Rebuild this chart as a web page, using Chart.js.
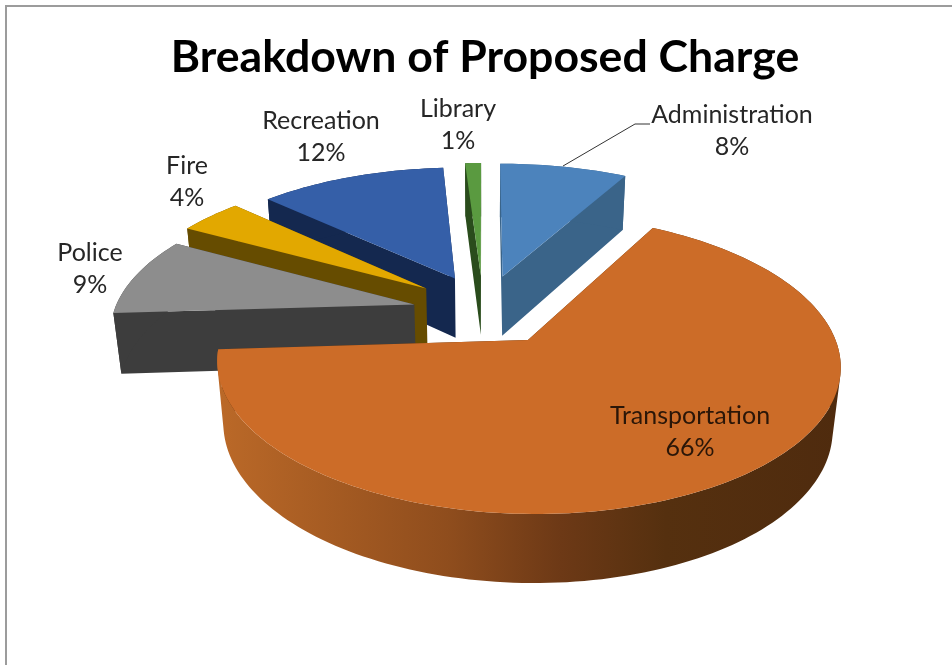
<!DOCTYPE html>
<html>
<head>
<meta charset="utf-8">
<title>Breakdown of Proposed Charge</title>
<script src="https://cdn.jsdelivr.net/npm/chart.js@4"></script>
<style>
    html, body { margin: 0; padding: 0; background: #fff; overflow: hidden; }
    #frame { position: absolute; left: 5px; top: 5px; width: 960px; height: 680px; border: 2px solid #9c9c9c; box-sizing: border-box; }
    #pie { position: absolute; left: 0; top: 0; }
</style>
</head>
<body>
<div id="frame"></div>
<canvas id="pie" width="952" height="665"></canvas>
<script>
// Chart data
const categories = ["Administration", "Transportation", "Police", "Fire", "Recreation", "Library"];
const shares = [8, 66, 9, 4, 12, 1];

const topColors = ["#4c83bc", "#cc6c28", "#8d8d8d", "#e2a800", "#355fa8", "#5a9a40"];
const wallColors = ["#3a6489", "#55300f", "#3d3d3d", "#664c00", "#14284f", "#2a4c1c"];

// Lighter to darker along the front of the big slice
const frontWallStops = [[0, "#bb6928"], [0.37, "#8f4d1d"], [0.55, "#6d3916"], [0.72, "#55300f"], [1, "#4f2b0e"]];

// Label centres: name line x, y; the percent line sits below it
const labelSpots = [[732, 115], [690, 416], [90, 253], [187, 166], [321, 121], [458, 109]];
const labelLineGap = 32;
const leaderLine = [[563, 166], [635, 124], [650, 124]];

// Pie view settings
const tilt = 0.459;        // vertical squash of the disc
const perspective = 0.16;  // nearer parts of the disc get larger
const wallDepth = 62;      // height of the pie body
const wallFade = 0.022;    // bottom face is a little further from the eye

// Small per-slice corrections: dx, dy, radius scale
const sliceFit = [[0, 0, 1], [2.5, 3, 0.976], [0, 4, 0.985], [-1, 0, 1], [0, 0, 0.975], [-2, 0, 1]];

// Far slices first, so nearer ones paint over them
const paintOrder = [0, 5, 4, 3, 2, 1];

function project(arc, u, v, low) {
    const R = arc.outerRadius;
    const w = 1 - perspective * v + (low ? wallFade : 0);
    return [
        arc.x + R * u / w,
        arc.y + (R * tilt * v + (low ? wallDepth : 0)) / w
    ];
}

// Fills several polygons as one path. All are wound the same way so that
// the overlaps merge and no seams show.
function fillPolys(ctx, polys, color) {
    ctx.beginPath();
    polys.forEach(function(poly) {
        let area = 0;
        poly.forEach(function(p, i) {
            const n = poly[(i + 1) % poly.length];
            area += p[0] * n[1] - n[0] * p[1];
        });
        const points = area < 0 ? poly.slice().reverse() : poly;
        points.forEach(function(p, i) {
            if (i === 0) ctx.moveTo(p[0], p[1]);
            else ctx.lineTo(p[0], p[1]);
        });
        ctx.closePath();
    });
    ctx.fillStyle = color;
    ctx.fill();
}

function drawSlice(ctx, arc, index) {
    const fit = sliceFit[index];
    const mid = (arc.startAngle + arc.endAngle) / 2;
    const e = arc.options.offset / arc.outerRadius;
    const cu = e * Math.cos(mid);
    const cv = e * Math.sin(mid);

    const steps = Math.max(8, Math.ceil((arc.endAngle - arc.startAngle) * 40));
    const rim = [];
    for (let i = 0; i <= steps; i++) {
        const a = arc.startAngle + (arc.endAngle - arc.startAngle) * i / steps;
        rim.push([cu + fit[2] * Math.cos(a), cv + fit[2] * Math.sin(a)]);
    }

    const place = function(p, low) {
        const q = project(arc, p[0], p[1], low);
        return [q[0] + fit[0], q[1] + fit[1]];
    };
    const tip = [cu, cv];
    const first = rim[0];
    const last = rim[rim.length - 1];

    // radial walls
    fillPolys(ctx, [
        [place(tip), place(last), place(last, true), place(tip, true)],
        [place(tip), place(first), place(first, true), place(tip, true)]
    ], wallColors[index]);

    // curved outer wall
    const topRim = rim.map(function(p) { return place(p); });
    const lowRim = rim.map(function(p) { return place(p, true); });
    let wallPaint = wallColors[index];
    if (index === 1) {
        const xs = topRim.map(function(p) { return p[0]; });
        const g = ctx.createLinearGradient(Math.min.apply(null, xs), 0, Math.max.apply(null, xs), 0);
        frontWallStops.forEach(function(s) { g.addColorStop(s[0], s[1]); });
        wallPaint = g;
    }
    const strips = [];
    for (let i = 0; i < steps; i++) {
        strips.push([topRim[i], topRim[i + 1], lowRim[i + 1], lowRim[i]]);
    }
    fillPolys(ctx, strips, wallPaint);

    // top face
    fillPolys(ctx, [[place(tip)].concat(topRim)], arc.options.backgroundColor);
}

// The library lays out the arcs; this paints them as a tilted solid pie
const solidPie = {
    id: "solidPie",
    beforeDatasetDraw: function(chart, args) {
        const ctx = chart.ctx;
        const arcs = chart.getDatasetMeta(args.index).data;
        ctx.save();
        paintOrder.forEach(function(i) {
            drawSlice(ctx, arcs[i], i);
        });
        ctx.restore();
        return false;
    },
    afterDatasetsDraw: function(chart) {
        const ctx = chart.ctx;
        ctx.save();

        ctx.beginPath();
        leaderLine.forEach(function(p, i) {
            if (i === 0) ctx.moveTo(p[0], p[1]);
            else ctx.lineTo(p[0], p[1]);
        });
        ctx.strokeStyle = "#333";
        ctx.lineWidth = 1;
        ctx.stroke();

        ctx.font = "25px Lato, 'Open Sans', sans-serif";
        ctx.textAlign = "center";
        ctx.textBaseline = "middle";
        categories.forEach(function(name, i) {
            ctx.fillStyle = i === 1 ? "#2a1608" : "#262626";
            ctx.fillText(name, labelSpots[i][0], labelSpots[i][1]);
            ctx.fillText(shares[i] + "%", labelSpots[i][0], labelSpots[i][1] + labelLineGap);
        });
        ctx.restore();
    }
};

new Chart(document.getElementById("pie").getContext("2d"), {
    type: "pie",
    data: {
        labels: categories,
        datasets: [{
            data: shares,
            backgroundColor: topColors,
            borderWidth: 0,
            offset: 73
        }]
    },
    options: {
        responsive: false,
        animation: false,
        radius: 305,
        layout: { padding: { left: 18, bottom: 140 } },
        plugins: {
            legend: { display: false },
            tooltip: { enabled: false },
            title: {
                display: true,
                text: "Breakdown of Proposed Charge",
                color: "#000",
                font: { family: "Lato, 'Open Sans', sans-serif", size: 44.6, weight: "bold" },
                padding: { top: 31, bottom: 6 }
            }
        }
    },
    plugins: [solidPie]
});
</script>
</body>
</html>
